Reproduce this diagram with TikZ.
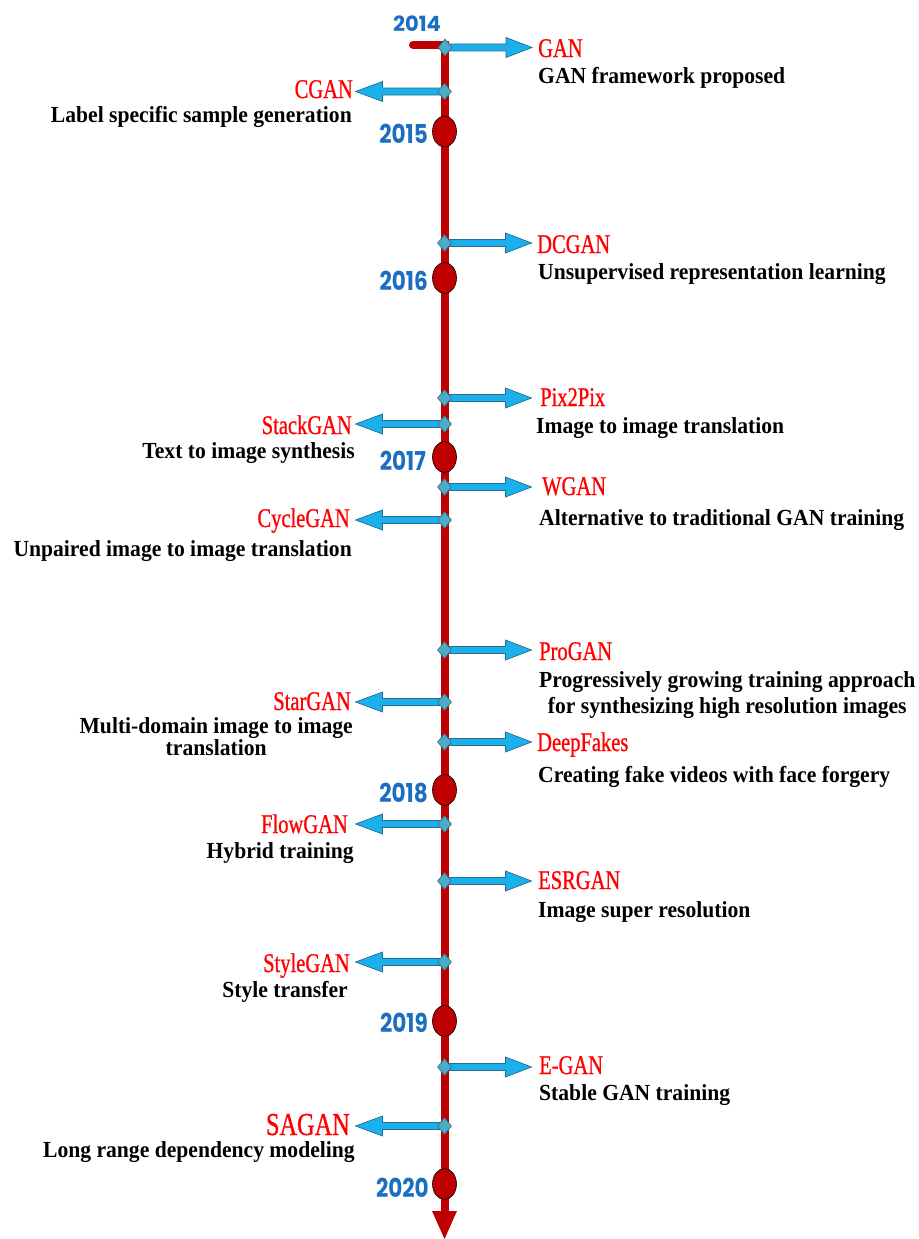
\documentclass[tikz,border=0pt]{standalone}
\usepackage{fontspec}
\usetikzlibrary{shapes.geometric}
\newfontfamily\ttlfont[FakeStretch=0.76,FakeBold=0.8]{Liberation Serif}
\newfontfamily\dscfont[FakeStretch=0.94]{Liberation Serif}
\newfontfamily\yrfont[FakeStretch=0.83]{Poppins}
\newfontfamily\yrwfont{Poppins}
\definecolor{lineRed}{HTML}{C00000}
\definecolor{yearBlue}{HTML}{1C6EC0}
\definecolor{arrFill}{HTML}{1AB0EC}
\definecolor{arrLine}{HTML}{2A6A90}
\definecolor{dmFill}{HTML}{4BACC6}
\definecolor{dmLine}{HTML}{2B6F80}
\newcommand\RArr[1]{\draw[blockarr] (#1) ++(0,-3.5) -- ++(61,0) -- ++(0,-6.5) -- ++(26,10) -- ++(-26,10) -- ++(0,-6.5) -- ++(-61,0) -- cycle;}
\newcommand\LArr[1]{\draw[blockarr] (#1) ++(0,-3.5) -- ++(-62,0) -- ++(0,-6.5) -- ++(-27,10) -- ++(27,10) -- ++(0,-6.5) -- ++(62,0) -- cycle;}
\begin{document}
\begin{tikzpicture}[x=1pt,y=-1pt,
  blockarr/.style={fill=arrFill,draw=arrLine,line width=0.7pt,line join=miter},
  dm/.style={diamond,fill=dmFill,draw=dmLine,line width=0.6pt,minimum width=14pt,minimum height=17pt,inner sep=0pt},
  yeardot/.style={ellipse,fill=lineRed,draw=black,line width=0.6pt,minimum width=24pt,minimum height=31pt,inner sep=0pt},
  ttl/.style={inner sep=0pt,text=red,font=\ttlfont\fontsize{27}{30}\selectfont},
  dsc/.style={inner sep=0pt,text=black,font=\dscfont\bfseries\fontsize{23}{26}\selectfont},
  yr/.style={inner sep=0pt,text=yearBlue,font=\yrfont\bfseries\fontsize{26}{28}\selectfont,anchor=base east}]
\useasboundingbox (0,0) rectangle (918,1239);
% timeline
\coordinate (start) at (413,45);
\coordinate (corner) at (444.5,45);
\coordinate (lend) at (444.5,1214);
\draw[lineRed,line width=8pt,line cap=round,line join=miter] (start) -- (corner) -- (lend);
\fill[lineRed] (lend) ++(-12.5,-3) -- ++(25,0) -- ++(-12.5,28) -- cycle;
% year dots
\foreach \n/\y in {2015/131.5,2016/278,2017/457,2018/790,2019/1021,2020/1184}{
  \node[yeardot] (e\n) at (444.5,\y) {};
}
% year labels
\node[yr,anchor=base,font=\yrwfont\bfseries\fontsize{21}{23}\selectfont] (y2014) at (417,32) {2014};
\node[yr] (y2015) at (428,143) {2015};
\node[yr] (y2016) at (428,290) {2016};
\node[yr] (y2017) at (426,470) {2017};
\node[yr] (y2018) at (428,802) {2018};
\node[yr] (y2019) at (428,1032) {2019};
\node[yr] (y2020) at (429,1197) {2020};
% points on the line
\coordinate (pGAN) at (445,47.5);
\coordinate (pCGAN) at (444.5,91.5);
\coordinate (pDCGAN) at (444.5,243);
\coordinate (pPix) at (444.5,398);
\coordinate (pStack) at (444.5,424);
\coordinate (pWGAN) at (444.5,487);
\coordinate (pCycle) at (444.5,520);
\coordinate (pPro) at (444.5,650);
\coordinate (pStar) at (444.5,702);
\coordinate (pDeep) at (444.5,742);
\coordinate (pFlow) at (444.5,824);
\coordinate (pESR) at (444.5,881);
\coordinate (pStyle) at (444.5,962);
\coordinate (pEGAN) at (444.5,1067);
\coordinate (pSAGAN) at (444.5,1126);
% block arrows
\RArr{pGAN} \LArr{pCGAN} \RArr{pDCGAN} \RArr{pPix} \LArr{pStack}
\RArr{pWGAN} \LArr{pCycle} \RArr{pPro} \LArr{pStar} \RArr{pDeep}
\LArr{pFlow} \RArr{pESR} \LArr{pStyle} \RArr{pEGAN} \LArr{pSAGAN}
% diamonds
\foreach \p in {GAN,CGAN,DCGAN,Pix,Stack,WGAN,Cycle,Pro,Star,Deep,Flow,ESR,Style,EGAN,SAGAN}{
  \node[dm] (d\p) at (p\p) {};
}
% titles
\node[ttl,anchor=base west] (tGAN) at (538,57) {GAN};
\node[ttl,anchor=base east] (tCGAN) at (353,98) {CGAN};
\node[ttl,anchor=base west] (tDCGAN) at (537,253) {DCGAN};
\node[ttl,anchor=base west] (tPix) at (540,406) {Pix2Pix};
\node[ttl,anchor=base east] (tStack) at (352,434) {StackGAN};
\node[ttl,anchor=base west] (tWGAN) at (542,495) {WGAN};
\node[ttl,anchor=base east] (tCycle) at (350,527) {CycleGAN};
\node[ttl,anchor=base west] (tPro) at (539,660) {ProGAN};
\node[ttl,anchor=base east] (tStar) at (351,710) {StarGAN};
\node[ttl,anchor=base west] (tDeep) at (537,751) {DeepFakes};
\node[ttl,anchor=base east] (tFlow) at (348,833) {FlowGAN};
\node[ttl,anchor=base west] (tESR) at (538,889) {ESRGAN};
\node[ttl,anchor=base east] (tStyle) at (350,972) {StyleGAN};
\node[ttl,anchor=base west] (tEGAN) at (539,1074) {E-GAN};
\node[ttl,anchor=base east,font=\ttlfont\fontsize{32}{34}\selectfont] (tSAGAN) at (350,1135) {SAGAN};
% descriptions
\node[dsc,anchor=base west] (sGAN) at (538,83) {GAN framework proposed};
\node[dsc,anchor=base east] (sCGAN) at (352,122) {Label specific sample generation};
\node[dsc,anchor=base west] (sDCGAN) at (538,279) {Unsupervised representation learning};
\node[dsc,anchor=base west] (sPix) at (536,433) {Image to image translation};
\node[dsc,anchor=base east] (sStack) at (355,458) {Text to image synthesis};
\node[dsc,anchor=base west] (sWGAN) at (539,525) {Alternative to traditional GAN training};
\node[dsc,anchor=base east] (sCycle) at (352,556) {Unpaired image to image translation};
\node[dsc,anchor=base west] (sPro) at (539,687) {\begin{tabular}[t]{@{}c@{}}Progressively growing training approach\\ for synthesizing high resolution images\end{tabular}};
\node[dsc,anchor=base east] (sStar) at (353,733) {\begin{tabular}[t]{@{}c@{}}Multi-domain image to image\\[-4pt] translation\end{tabular}};
\node[dsc,anchor=base west] (sDeep) at (538,782) {Creating fake videos with face forgery};
\node[dsc,anchor=base east] (sFlow) at (354,858) {Hybrid training};
\node[dsc,anchor=base west] (sESR) at (538,917) {Image super resolution};
\node[dsc,anchor=base east] (sStyle) at (348,997) {Style transfer};
\node[dsc,anchor=base west] (sEGAN) at (539,1100) {Stable GAN training};
\node[dsc,anchor=base east] (sSAGAN) at (355,1157) {Long range dependency modeling};
\end{tikzpicture}
\end{document}
